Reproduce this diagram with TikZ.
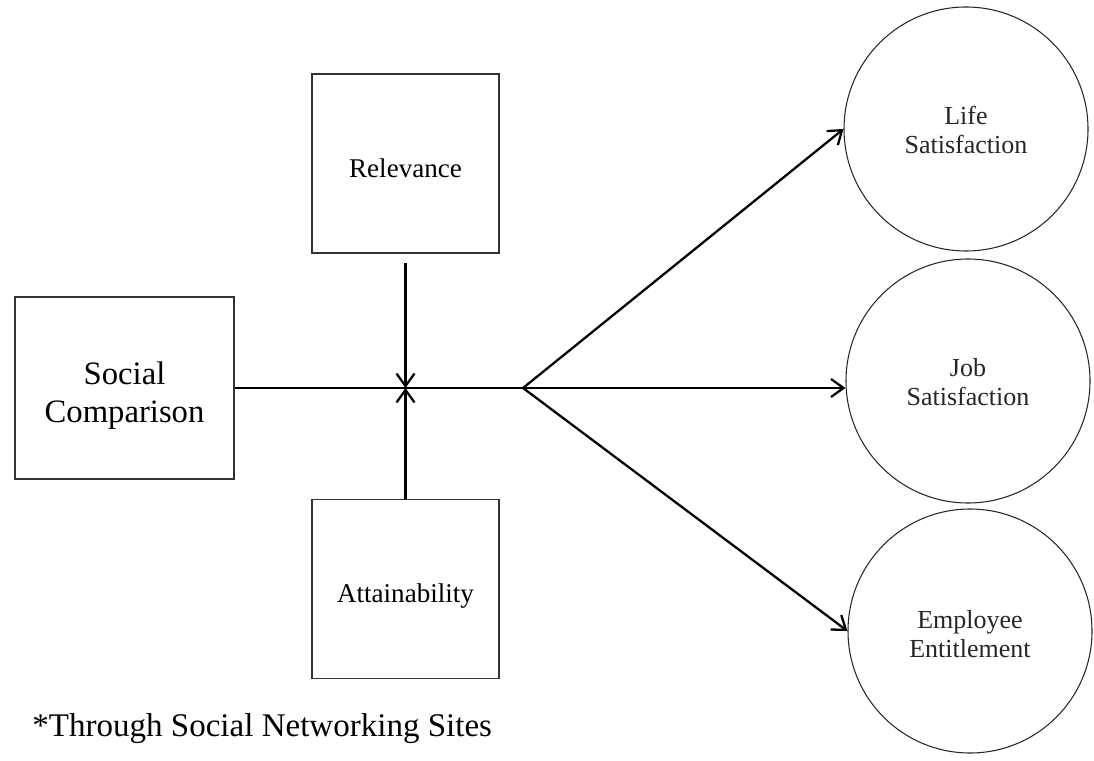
\documentclass[tikz,border=0pt]{standalone}
\usepackage{fontspec}
\setmainfont{Liberation Serif}
\usepackage{tikz}
\usetikzlibrary{arrows.meta}
\usetikzlibrary{positioning}
\tikzset{
    font={\fontsize{15.4pt}{17}\selectfont},
    construct/.style={
           rectangle,
           draw=black!80, line width=1pt,
           minimum width=3.74cm,
           minimum height=3.58cm,
           inner sep=2pt,
           text centered,
           align=center,
           },
    outcome/.style={
           circle,
           draw=black!85, line width=0.6pt,
           minimum size=4.88cm,
           inner sep=0pt,
           align=center,
           text=black!85,
           font={\fontsize{14.8pt}{17}\selectfont},
           },
    link/.style={line width=1.3pt},
}
\begin{document}
\begin{tikzpicture}[->,>={Straight Barb[length=0.25cm,width=0.36cm]}]
\useasboundingbox (0,0) rectangle (21.88,-15.22);

% Predictor
\node[construct, minimum width=4.38cm, minimum height=3.64cm,
      font={\fontsize{18.6pt}{21.6}\selectfont}] (SOCIAL) at (2.49,-7.76) {%
    \raisebox{-0.16cm}[\height][\depth]{\begin{tabular}{c}
        Social\\Comparison
    \end{tabular}}%
};

% Moderators
\node[construct, right of=SOCIAL, node distance=5.62cm, yshift=4.49cm, anchor=center] (RELEVANCE) {%
    \raisebox{-0.1cm}[\height][\depth]{Relevance}%
};
\node[construct, right of=SOCIAL, node distance=5.62cm, yshift=-4.02cm, anchor=center] (ATTAINABILITY) {%
    \raisebox{-0.15cm}[\height][\depth]{Attainability}%
};

% Outcomes
\node[outcome, right of=SOCIAL, node distance=16.83cm, yshift=5.18cm, anchor=center] (LIFE) {%
    \raisebox{-0.08cm}[\height][\depth]{\begin{tabular}{c}
        Life\\Satisfaction
    \end{tabular}}%
};
\node[outcome, right of=SOCIAL, node distance=16.87cm, yshift=0.14cm, anchor=center] (JOB) {%
    \raisebox{-0.08cm}[\height][\depth]{\begin{tabular}{c}
        Job\\Satisfaction
    \end{tabular}}%
};
\node[outcome, right of=SOCIAL, node distance=16.91cm, yshift=-4.86cm, anchor=center] (EMPLOYEE) {%
    \raisebox{-0.12cm}[\height][\depth]{\begin{tabular}{c}
        Employee\\Entitlement
    \end{tabular}}%
};

% Note
\node[anchor=west, inner sep=0pt, font={\fontsize{18.8pt}{22}\selectfont}] (NOTE) at (0.64,-14.58) {*Through Social Networking Sites};

\coordinate (FORK) at (10.46,-7.76);
\coordinate (JUNCTION) at (RELEVANCE.south |- SOCIAL.east);
\coordinate (RELTAIL) at ([yshift=-0.18cm]RELEVANCE.south);

\path (SOCIAL)        edge[link,-]  (FORK)
      (RELTAIL)       edge[link]    (JUNCTION)
      (ATTAINABILITY) edge[link]    (JUNCTION)
      (FORK)          edge[link]    (LIFE.west)
      (FORK)          edge[link]    (JOB.west |- FORK)
      (FORK)          edge[link]    (EMPLOYEE.west)
;

\end{tikzpicture}
\end{document}
